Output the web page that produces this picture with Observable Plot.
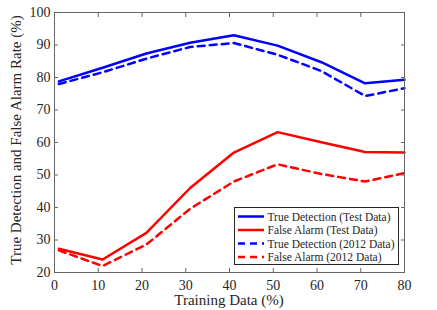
<!DOCTYPE html>
<html><head><meta charset="utf-8">
<script src="https://cdn.jsdelivr.net/npm/d3@7"></script>
<script src="https://cdn.jsdelivr.net/npm/@observablehq/plot@0.6"></script>
<style>body{margin:0;background:#fff}</style>
</head><body><div id="chart"></div>
<script>
const trainingPct = [1, 11, 21, 31, 41, 51, 61, 71, 80];
const trueDetTest = [78.8, 83.0, 87.4, 90.7, 93.0, 89.8, 84.7, 78.2, 79.3];
const falseAlarmTest = [27.3, 24.0, 32.2, 46.0, 56.9, 63.2, 60.1, 57.1, 56.9];
const trueDet2012 = [78.0, 81.6, 85.8, 89.4, 90.6, 87.0, 82.0, 74.3, 76.7];
const falseAlarm2012 = [26.8, 22.0, 28.6, 39.6, 48.0, 53.3, 50.3, 48.0, 50.6];
const seriesNames = ["True Detection (Test Data)", "False Alarm (Test Data)", "True Detection (2012 Data)", "False Alarm (2012 Data)"];
const seriesValues = [trueDetTest, falseAlarmTest, trueDet2012, falseAlarm2012];
const seriesColors = ["#0000ff", "#ff0000", "#0000ff", "#ff0000"];
const seriesDash = [null, null, "7,5", "7,5"];
const xTicks = [0, 10, 20, 30, 40, 50, 60, 70, 80];
const yTicks = [20, 30, 40, 50, 60, 70, 80, 90, 100];

const font = "'Liberation Serif', 'Times New Roman', serif";
const lineMarks = seriesValues.map((vals, i) =>
  Plot.line(trainingPct.map((x, j) => ({x, y: vals[j]})), {
    x: "x", y: "y", stroke: seriesColors[i], strokeWidth: 2.5,
    strokeDasharray: seriesDash[i]
  })
);
const axisColor = "#666";
const chart = Plot.plot({
  width: 437, height: 310,
  marginLeft: 54, marginRight: 33, marginTop: 12, marginBottom: 38,
  style: {fontFamily: font, fontSize: "14px", color: "#262626", background: "#fff"},
  x: {domain: [0, 80]},
  y: {domain: [20, 100]},
  marks: [
    ...lineMarks,
    Plot.frame({stroke: axisColor, strokeWidth: 1}),
    Plot.axisX({anchor: "bottom", ticks: xTicks, tickSize: -4, tickPadding: 12, stroke: axisColor, fill: "#262626", label: null, fontSize: 14}),
    Plot.axisX({anchor: "top", ticks: xTicks, tickSize: -4, tickFormat: () => "", stroke: axisColor, label: null}),
    Plot.axisY({anchor: "left", ticks: yTicks, tickSize: -4, tickPadding: 8, stroke: axisColor, fill: "#262626", label: null, fontSize: 14}),
    Plot.axisY({anchor: "right", ticks: yTicks, tickSize: -4, tickFormat: () => "", stroke: axisColor, label: null})
  ]
});
document.getElementById("chart").appendChild(chart);

const svg = d3.select(chart);
svg.selectAll("text").style("font-family", font).style("font-variant", "normal");
// axis titles
svg.append("text").attr("x", 229).attr("y", 305).attr("text-anchor", "middle")
  .style("font-family", font).attr("font-size", 15).attr("fill", "#262626")
  .text("Training Data (%)");
svg.append("text").attr("transform", "translate(21,140) rotate(-90)").attr("text-anchor", "middle")
  .style("font-family", font).attr("font-size", 15).attr("fill", "#262626")
  .text("True Detection and False Alarm Rate (%)");
// legend
const lg = svg.append("g").attr("text-anchor", "start");
lg.append("rect").attr("x", 234.5).attr("y", 207.5).attr("width", 164).attr("height", 57)
  .attr("fill", "#fff").attr("stroke", "#262626").attr("stroke-width", 1);
seriesNames.forEach((name, i) => {
  const y = 216.5 + i * 13.5;
  lg.append("line").attr("x1", 238).attr("x2", 264).attr("y1", y).attr("y2", y)
    .attr("stroke", seriesColors[i]).attr("stroke-width", 2.5)
    .attr("stroke-dasharray", seriesDash[i]);
  lg.append("text").attr("x", 267.5).attr("y", y).attr("dy", "0.35em").attr("text-anchor", "start")
    .style("font-family", font).attr("font-size", 11.5).attr("fill", "#262626").text(name);
});
</script></body></html>
